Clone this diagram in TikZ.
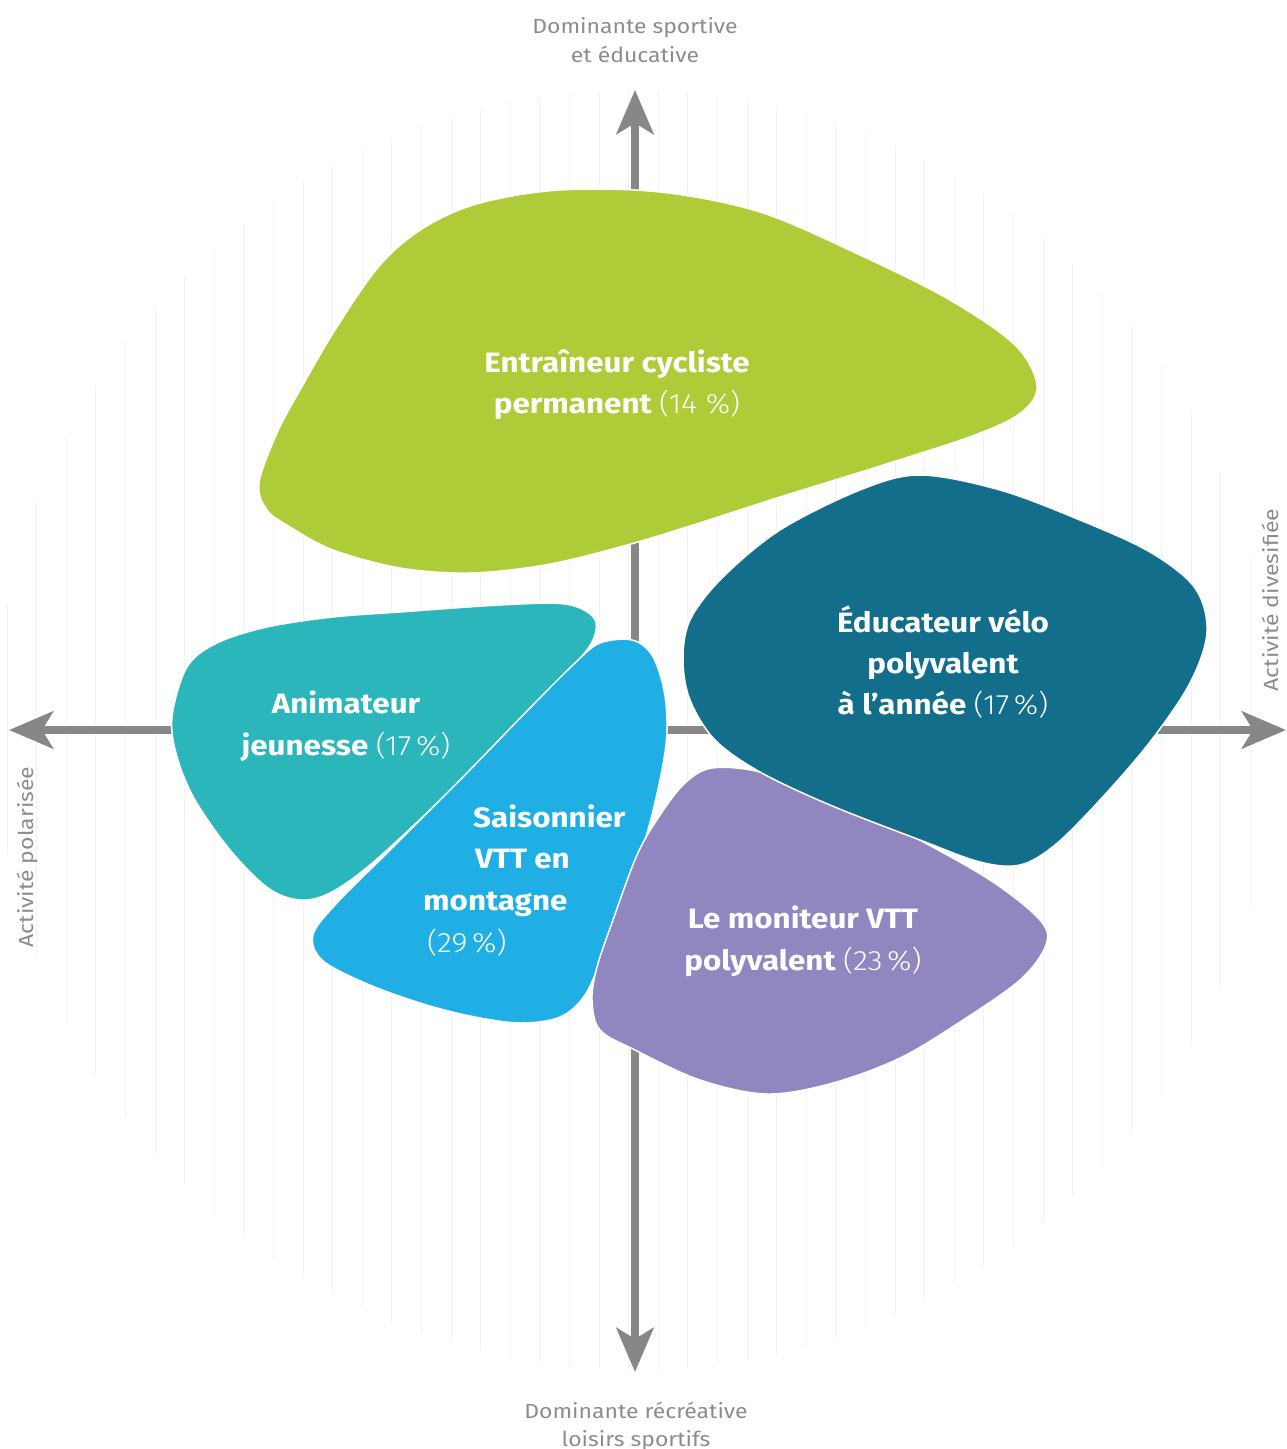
\documentclass[tikz,border=0pt]{standalone}
\usepackage{fontspec}
\setmainfont{Fira Sans}[FakeStretch=1.12]
\newfontfamily\lightf{Fira Sans Light}[FakeStretch=1.1]
\usetikzlibrary{arrows.meta}
\definecolor{cgreen}{HTML}{AFCB37}
\definecolor{cteal}{HTML}{2AB6BB}
\definecolor{ccyan}{HTML}{20AFE4}
\definecolor{cdblue}{HTML}{126E8A}
\definecolor{cpurple}{HTML}{9186BF}
\definecolor{caxis}{HTML}{878787}
\definecolor{clabel}{HTML}{8C8C8C}
\definecolor{cbg}{HTML}{F3F3F3}
\newcommand\pcent[1]{{\mdseries\lightf #1}}
\begin{document}
\begin{tikzpicture}[x=1pt,y=-1pt,
  blob/.style={draw=white, line width=1.5pt},
  bgline/.style={draw=cbg, line width=0.8pt},
  axis/.style={draw=caxis, line width=8pt,
    {Stealth[length=44pt,width=37pt,inset=11pt]}-{Stealth[length=44pt,width=37pt,inset=11pt]}},
  lbl/.style={text=white, font=\fontsize{28}{34}\selectfont\bfseries, inner sep=0pt, anchor=base},
  lblw/.style={lbl, anchor=base west},
  axlbl/.style={text=clabel, font=\fontsize{20.5}{25}\selectfont, inner sep=0pt, anchor=base}
]
\useasboundingbox (0,0) rectangle (1287,1449);
% background lines
\begin{scope}
  \clip (635,730) circle[radius=640pt];
  \foreach \i in {-21,...,22}
    \draw[bgline] ({628.6+29.6*\i},0) -- ({628.6+29.6*\i},1449);
\end{scope}
% axes
\coordinate (T) at (635,90);
\coordinate (B) at (635,1372);
\coordinate (L) at (9,730);
\coordinate (R) at (1286,730);
\draw[axis] (L) -- (R);
\draw[axis] (B) -- (T);
% green
\fill[cgreen, blob] plot[smooth cycle, tension=0.55] coordinates {
  (259,483) (277,433) (300,390) (335,330) (380,265) (425,227) (480,203) (560,190)
  (660,192) (760,212) (860,255) (950,300) (1015,345) (1037,385) (1022,412)
  (975,435) (880,466) (780,497) (690,526) (620,547) (545,565) (470,573)
  (400,568) (333,550) (290,527) (267,510)};
% teal
\fill[cteal, blob] plot[smooth cycle, tension=0.55] coordinates {
  (172,717) (187,667) (217,643) (267,627) (333,617) (400,612) (500,605)
  (565,604) (594,618) (592,642) (565,675) (500,742) (430,810) (370,865)
  (330,893) (300,900) (268,888) (230,850) (195,800) (177,757)};
% cyan
\fill[ccyan, blob] plot[smooth cycle, tension=0.55] coordinates {
  (600,643) (632,640) (652,655) (664,690) (667,730) (662,770) (648,830)
  (628,890) (605,950) (585,995) (560,1017) (520,1023) (470,1016) (420,1003)
  (365,983) (322,960) (313,935) (335,905) (390,850) (460,780) (530,708) (575,663)};
% purple
\fill[cpurple, blob] plot[smooth cycle, tension=0.55] coordinates {
  (712,768) (760,772) (830,797) (910,835) (990,880) (1040,920) (1046,945)
  (1020,980) (960,1022) (900,1058) (833,1083) (767,1094) (700,1080)
  (635,1050) (600,1030) (592,1000) (597,967) (613,920) (637,855) (660,815) (685,783)};
% dark blue
\fill[cdblue, blob] plot[smooth cycle, tension=0.55] coordinates {
  (920,475) (860,490) (780,530) (722,578) (690,620) (683,660) (690,700)
  (715,740) (760,772) (830,805) (920,840) (980,862) (1020,865) (1055,845)
  (1100,800) (1150,742) (1190,683) (1207,632) (1195,588) (1150,552)
  (1080,520) (1000,490)};
% labels
\node[lbl] (ent1) at (617,372) {Entraîneur cycliste};
\node[lbl] (ent2) at (617,413) {permanent \pcent{(14~\%)}};
\node[lbl] (edu1) at (943,632) {Éducateur vélo};
\node[lbl] (edu2) at (943,673) {polyvalent};
\node[lbl] (edu3) at (943,714) {à l’année \pcent{(17\,\%)}};
\node[lbl] (ani1) at (346,713) {Animateur};
\node[lbl] (ani2) at (346,755) {jeunesse \pcent{(17\,\%)}};
\node[lblw] (sai1) at (473,827) {Saisonnier};
\node[lblw] (sai2) at (475,868) {VTT en};
\node[lblw] (sai3) at (423,910) {montagne};
\node[lblw] (sai4) at (427,952) {\pcent{(29\,\%)}};
\node[lbl] (mon1) at (803,928) {Le moniteur VTT};
\node[lbl] (mon2) at (803,970) {polyvalent \pcent{(23\,\%)}};
% axis labels
\node[axlbl] (top1) at (635,33) {Dominante sportive};
\node[axlbl] (top2) at (635,62) {et éducative};
\node[axlbl] (bot1) at (636,1418) {Dominante récréative};
\node[axlbl] (bot2) at (636,1446) {loisirs sportifs};
\node[axlbl, rotate=90] (left) at (33,857) {Activité polarisée};
\node[axlbl, rotate=90] (right) at (1278,600) {Activité divesifiée};
\end{tikzpicture}
\end{document}
